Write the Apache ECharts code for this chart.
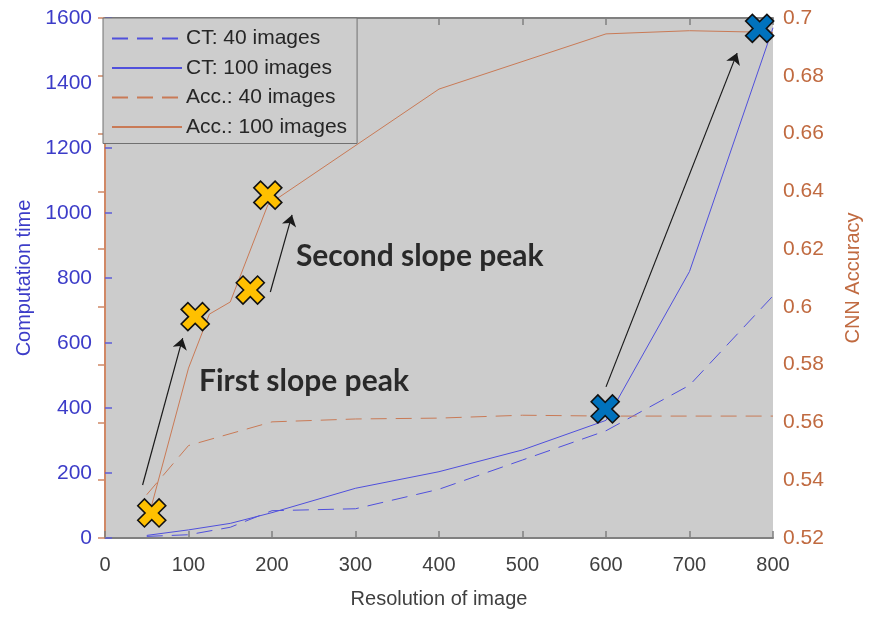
<!DOCTYPE html>
<html>
<head>
<meta charset="utf-8">
<script src="https://cdn.jsdelivr.net/npm/echarts@6/dist/echarts.min.js"></script>
<style>
  html, body { margin: 0; padding: 0; background: #ffffff; }
  #chart { width: 870px; height: 617px; }
</style>
</head>
<body>
<div id="chart"></div>
<script>
// Computation time (left axis) against image resolution
const ctResolution = [50, 100, 150, 200, 300, 400, 500, 600, 700, 800];
const ct40 = [5, 10, 33, 84, 90, 150, 240, 330, 470, 745];
const ct100 = [8, 25, 45, 78, 153, 204, 271, 362, 820, 1570];

// CNN accuracy (right axis) against image resolution
const accResolution40 = [50, 100, 200, 300, 400, 500, 600, 700, 800];
const acc40 = [0.535, 0.552, 0.5602, 0.5612, 0.5615, 0.5625, 0.5622, 0.5622, 0.5622];
const accResolution100 = [50, 100, 125, 150, 195, 400, 600, 700, 800];
const acc100 = [0.525, 0.5788, 0.5975, 0.6017, 0.6353, 0.6754, 0.6945, 0.6956, 0.695];

// Highlighted slope points (resolution, computation-time scale)
const peakX = [56, 108, 174, 195];
const peakY = [77, 681, 763, 1055];
const ctPeakX = [599, 784];
const ctPeakY = [397, 1568];

// Annotation arrows: [from, to] in (resolution, computation-time) units
const arrows = [
  [[45, 163], [93, 615]],
  [[198, 757], [224, 994]],
  [[600, 465], [757, 1492]]
];
const notes = [
  { text: 'First slope peak', at: [112, 483] },
  { text: 'Second slope peak', at: [228, 866] }
];

const names = ['CT: 40 images', 'CT: 100 images', 'Acc.: 40 images', 'Acc.: 100 images'];

const BLUE = '#5050dc';
const BLUE_TXT = '#3c3cc8';
const ORANGE = '#c97a56';
const ORANGE_TXT = '#c06a40';
const GREY = '#808080';
const FONT = 'Liberation Sans, Arial, sans-serif';

const zip = (xs, ys) => xs.map((x, i) => [x, ys[i]]);

const crossPath = 'path://M0,24 L24,0 L50,26 L76,0 L100,24 L74,50 L100,76 L76,100 L50,74 L24,100 L0,76 L26,50 Z';

const chart = echarts.init(document.getElementById('chart'), null, { renderer: 'canvas' });

const lineSeries = (name, data, color, dashed, yIdx) => ({
  name, type: 'line', data, xAxisIndex: 0, yAxisIndex: yIdx,
  symbol: 'none', smooth: false, z: 3,
  lineStyle: { color, width: 1, type: dashed ? [16, 9] : 'solid' },
  itemStyle: { color }
});

const option = {
  animation: false,
  backgroundColor: '#ffffff',
  grid: {
    left: 105, right: 97, top: 18, bottom: 79,
    outerBoundsMode: 'none', containLabel: false,
    show: true, backgroundColor: '#cccccc', borderWidth: 0
  },
  legend: {
    data: names,
    orient: 'vertical',
    left: 103, top: 18,
    itemWidth: 70, itemHeight: 14, itemGap: 8.5,
    padding: [10, 10, 6, 8],
    backgroundColor: '#cdcdcd',
    borderColor: '#707070', borderWidth: 1,
    itemStyle: { opacity: 0 },
    textStyle: { fontFamily: FONT, fontSize: 21, color: '#262626', padding: [0, 0, 0, -1] },
    selectedMode: false
  },
  xAxis: [
    {
      type: 'value', min: 0, max: 800, interval: 100, position: 'bottom',
      name: 'Resolution of image', nameLocation: 'middle', nameGap: 51,
      nameTextStyle: { fontFamily: FONT, fontSize: 20, color: '#404040' },
      axisLine: { lineStyle: { color: GREY, width: 2 } },
      axisTick: { inside: true, length: 7, lineStyle: { color: GREY, width: 1.5 } },
      axisLabel: { fontFamily: FONT, fontSize: 20, color: '#404040', margin: 17 },
      splitLine: { show: false }
    },
    {
      type: 'value', min: 0, max: 800, interval: 100, position: 'top',
      axisLine: { lineStyle: { color: GREY, width: 2 } },
      axisTick: { inside: true, length: 7, lineStyle: { color: GREY, width: 1.5 } },
      axisLabel: { show: false },
      splitLine: { show: false }
    }
  ],
  yAxis: [
    {
      type: 'value', min: 0, max: 1600, interval: 200, position: 'left',
      name: 'Computation time', nameLocation: 'middle', nameGap: 71,
      nameTextStyle: { fontFamily: FONT, fontSize: 20, color: BLUE_TXT },
      axisLine: { show: true, lineStyle: { color: '#5c5cd8', width: 1.5 } },
      axisTick: { show: true, inside: true, length: 7, lineStyle: { color: '#5c5cd8', width: 1.5 } },
      axisLabel: { fontFamily: FONT, fontSize: 21, color: BLUE_TXT, margin: 13, formatter: v => String(v) },
      splitLine: { show: false }
    },
    {
      type: 'value', min: 0.52, max: 0.7, interval: 0.02, position: 'right',
      name: 'CNN Accuracy', nameLocation: 'middle', nameGap: 70,
      nameTextStyle: { fontFamily: FONT, fontSize: 20, color: ORANGE_TXT },
      axisLine: { show: true, lineStyle: { color: '#d08866', width: 2 } },
      axisTick: { show: true, inside: true, length: 7, lineStyle: { color: '#d08866', width: 1.5 } },
      axisLabel: { fontFamily: FONT, fontSize: 21, color: ORANGE_TXT, margin: 10,
        formatter: v => String(Math.round(v * 100) / 100) },
      splitLine: { show: false }
    }
  ],
  series: [
    lineSeries(names[0], zip(ctResolution, ct40), BLUE, true, 0),
    lineSeries(names[1], zip(ctResolution, ct100), BLUE, false, 0),
    lineSeries(names[2], zip(accResolution40, acc40), ORANGE, true, 1),
    lineSeries(names[3], zip(accResolution100, acc100), ORANGE, false, 1),
    {
      type: 'lines', coordinateSystem: 'cartesian2d', xAxisIndex: 0, yAxisIndex: 0, z: 4,
      symbol: ['none', 'arrow'], symbolSize: [1, 11],
      lineStyle: { color: '#1a1a1a', width: 1.2, opacity: 1 },
      data: arrows.map(a => ({ coords: a }))
    },
    {
      type: 'scatter', xAxisIndex: 0, yAxisIndex: 0, z: 5,
      symbol: crossPath, symbolSize: 28,
      itemStyle: { color: '#ffc000', borderColor: '#111111', borderWidth: 1.6, opacity: 1 },
      data: zip(peakX, peakY)
    },
    {
      type: 'scatter', xAxisIndex: 0, yAxisIndex: 0, z: 5,
      symbol: crossPath, symbolSize: 28,
      itemStyle: { color: '#0072bd', borderColor: '#111111', borderWidth: 1.6, opacity: 1 },
      data: zip(ctPeakX, ctPeakY)
    },
    {
      type: 'scatter', xAxisIndex: 0, yAxisIndex: 0, z: 6,
      symbolSize: 1, itemStyle: { color: 'rgba(0,0,0,0)' },
      label: {
        show: true, position: 'right', distance: 0,
        formatter: p => p.data.text,
        fontFamily: 'Lato, "Open Sans", sans-serif', fontWeight: 'bold', fontSize: 30, color: '#000000'
      },
      data: notes.map(n => ({ value: n.at, text: n.text }))
    }
  ]
};

chart.setOption(option);
</script>
</body>
</html>
